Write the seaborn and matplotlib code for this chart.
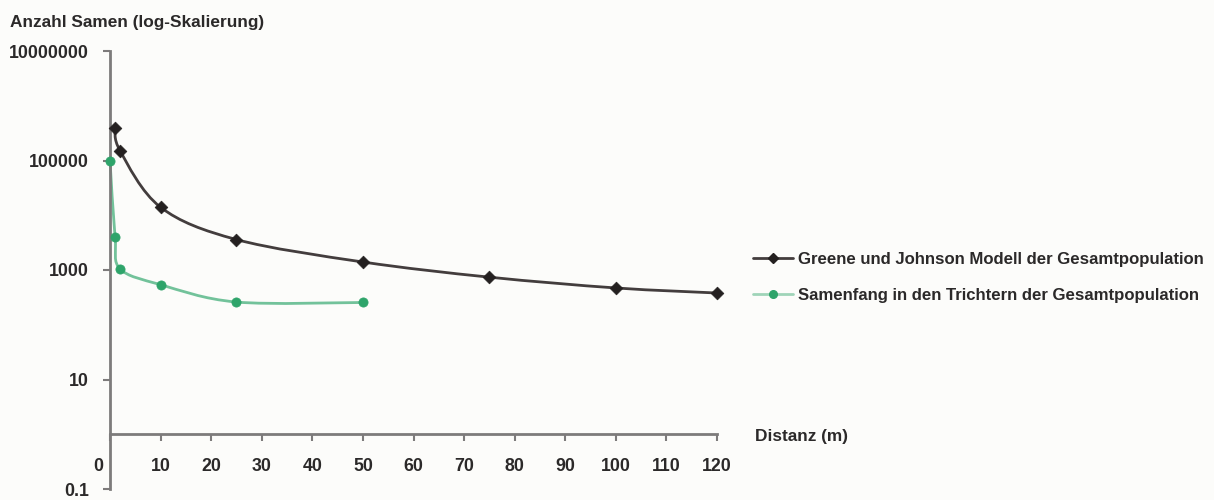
import matplotlib
matplotlib.use("Agg")
import matplotlib.pyplot as plt
import matplotlib.ticker as mticker
from matplotlib.path import Path
from matplotlib.patches import PathPatch
from matplotlib.lines import Line2D
from matplotlib.transforms import ScaledTranslation
import numpy as np
import seaborn as sns
import pandas as pd

# Distance (m) and number of seeds for the two series
model_dist = [1, 2, 10, 25, 50, 75, 100, 120]
model_seeds = [400000, 150000, 14000, 3600, 1400, 740, 470, 380]

trap_dist = [0, 1, 2, 10, 25, 50]
trap_seeds = [100000, 4000, 1050, 540, 260, 255]

model_label = "Greene und Johnson Modell der Gesamtpopulation"
trap_label = "Samenfang in den Trichtern der Gesamtpopulation"

y_ticks = [1e7, 1e5, 1e3, 10, 0.1]
y_tick_labels = ["10000000", "100000", "1000", "10", "0.1"]
x_ticks = list(range(0, 121, 10))

sns.set_theme(style="white")
plt.rcParams["font.family"] = ["Liberation Sans", "DejaVu Sans"]

text_color = "#2b2929"
axis_color = "#7d7b7b"
bg = "#fcfcfa"
model_line, model_mark = "#433d3d", "#242020"
trap_line, trap_mark = "#72c29a", "#2ea46a"


def smooth_curve(xs, ys):
    """Cubic Bezier path through the points (Catmull-Rom tangents in x / log10 y)."""
    lx = np.asarray(xs, float)
    ly = np.log10(np.asarray(ys, float))
    n = len(lx)
    verts = [(lx[0], ly[0])]
    codes = [Path.MOVETO]
    for i in range(n - 1):
        a = i - 1 if i > 0 else i
        d = i + 2 if i + 2 < n else i + 1
        c1 = (lx[i] + (lx[i + 1] - lx[a]) / 6, ly[i] + (ly[i + 1] - ly[a]) / 6)
        c2 = (lx[i + 1] - (lx[d] - lx[i]) / 6, ly[i + 1] - (ly[d] - ly[i]) / 6)
        verts += [c1, c2, (lx[i + 1], ly[i + 1])]
        codes += [Path.CURVE4] * 3
    verts = np.array(verts)
    verts[:, 1] = 10 ** verts[:, 1]
    return Path(verts, codes)


fig = plt.figure(figsize=(12.14, 5.0), dpi=100, facecolor=bg)
ax = fig.add_axes([110 / 1214, 11 / 500, 607 / 1214, 438 / 500])
ax.set_facecolor(bg)

ax.set_yscale("log")
ax.set_ylim(0.1, 1e7)
ax.set_xlim(0, 120)

model_df = pd.DataFrame({"Distanz": model_dist, "Samen": model_seeds})
trap_df = pd.DataFrame({"Distanz": trap_dist, "Samen": trap_seeds})

# smoothed connecting lines
for xs, ys, col in [(model_dist, model_seeds, model_line), (trap_dist, trap_seeds, trap_line)]:
    ax.add_patch(PathPatch(smooth_curve(xs, ys), fill=False, edgecolor=col,
                           linewidth=2.0, transform=ax.transData, zorder=2,
                           clip_on=False, capstyle="round", joinstyle="round"))

# data points
sns.scatterplot(data=model_df, x="Distanz", y="Samen", ax=ax, marker="D", s=42,
                color=model_mark, edgecolor=model_mark, linewidth=0.5,
                zorder=3, clip_on=False, legend=False)
sns.scatterplot(data=trap_df, x="Distanz", y="Samen", ax=ax, marker="o", s=44,
                color=trap_mark, edgecolor=trap_mark, linewidth=0.5,
                zorder=3, clip_on=False, legend=False)

ax.yaxis.set_major_locator(mticker.FixedLocator(y_ticks))
ax.yaxis.set_major_formatter(mticker.FixedFormatter(y_tick_labels))
ax.yaxis.set_minor_locator(mticker.NullLocator())
ax.xaxis.set_major_locator(mticker.FixedLocator(x_ticks))
ax.xaxis.set_major_formatter(mticker.FixedFormatter([str(v) for v in x_ticks]))
ax.xaxis.set_minor_locator(mticker.NullLocator())

# x axis crosses the value axis at 1
ax.spines["bottom"].set_position(("data", 1))
ax.spines["top"].set_visible(False)
ax.spines["right"].set_visible(False)
for side in ("left", "bottom"):
    ax.spines[side].set_color(axis_color)
    ax.spines[side].set_linewidth(2.0)

ax.tick_params(axis="y", which="major", direction="out", length=5, width=1.5,
               color=axis_color, pad=10, labelsize=12.8, labelcolor=text_color, left=True)
ax.tick_params(axis="x", which="major", direction="out", length=5, width=1.5,
               color=axis_color, pad=12, labelsize=12.8, labelcolor=text_color, bottom=True)
for lbl in ax.get_yticklabels() + ax.get_xticklabels():
    lbl.set_fontweight("bold")

# the "0" label sits left of the value axis
first = ax.get_xticklabels()[0]
first.set_horizontalalignment("right")
first.set_transform(first.get_transform() + ScaledTranslation(-5 / 72, 0, fig.dpi_scale_trans))

ax.set_xlabel("")
ax.set_ylabel("")
ax.grid(False)

fig.text(10 / 1214, 1 - 22 / 500, "Anzahl Samen (log-Skalierung)", ha="left", va="center",
         fontsize=12.4, fontweight="bold", color=text_color)
fig.text(755 / 1214, 1 - 436 / 500, "Distanz (m)", ha="left", va="center",
         fontsize=12.4, fontweight="bold", color=text_color)

handles = [
    Line2D([], [], color=model_line, linewidth=2.0, marker="D", markersize=5.5,
           markerfacecolor=model_mark, markeredgecolor=model_mark),
    Line2D([], [], color="#9fd4b8", linewidth=2.0, marker="o", markersize=5.5,
           markerfacecolor=trap_mark, markeredgecolor=trap_mark),
]
leg = ax.legend(handles, [model_label, trap_label], loc="center left",
                bbox_to_anchor=(753 / 1214, 1 - 277.5 / 500),
                bbox_transform=fig.transFigure, frameon=False,
                handlelength=2.4, handletextpad=0.3, labelspacing=1.25,
                borderaxespad=0, borderpad=0, prop={"weight": "bold", "size": 12.1})
for t in leg.get_texts():
    t.set_color(text_color)

fig.savefig("out.png", dpi=100, facecolor=bg)
